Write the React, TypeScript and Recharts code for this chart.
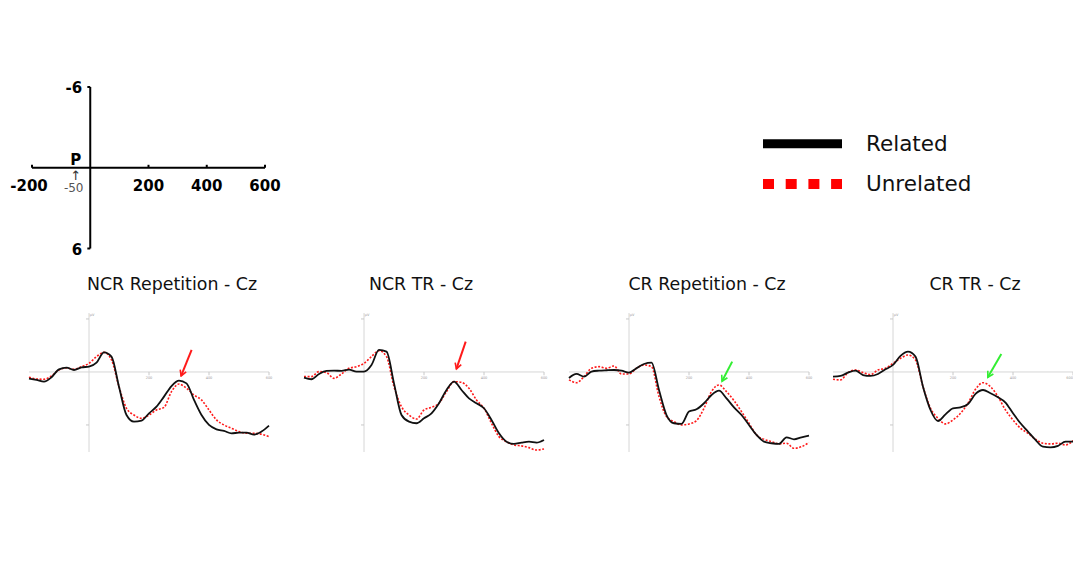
import { LineChart, Line, XAxis, YAxis, ReferenceLine, ReferenceDot } from "recharts";

// time points (ms) shared by every waveform
const times = [
  -200, -175, -150, -125, -100, -75, -50, -25, 0, 25, 50, 75, 100, 125, 150, 175, 200,
  225, 250, 275, 300, 325, 350, 375, 400, 425, 450, 475, 500, 525, 550, 575, 600,
];

// amplitudes in µV, negative plotted up
const ncrRepRelated = [
  0.5, 0.6, 0.73, 0.4, -0.2, -0.33, -0.15, -0.35, -0.4, -0.7, -1.48, -1.16, 1.11, 3.25, 3.75, 3.67, 3.12,
  2.62, 1.86, 1.06, 0.65, 0.86, 2.11, 3.25, 4.0, 4.33, 4.45, 4.63, 4.58, 4.58, 4.73, 4.5, 4.05,
];
const ncrRepUnrelated = [
  0.4, 0.53, 0.55, 0.3, -0.15, -0.3, -0.2, -0.4, -0.65, -1.16, -1.48, -0.91, 1.11, 2.74, 3.25, 3.5, 3.25,
  2.87, 2.67, 1.48, 0.91, 1.23, 1.74, 2.11, 2.87, 3.62, 4.0, 4.25, 4.5, 4.63, 4.63, 4.7, 4.88,
];
const ncrTrRelated = [
  0.43, 0.55, 0.15, -0.08, -0.1, -0.08, -0.18, -0.03, -0.03, -0.53, -1.66, -1.53, 0.86, 3.25, 3.75, 3.87, 3.5,
  3.12, 2.36, 1.36, 0.73, 1.36, 1.99, 2.36, 2.74, 3.62, 4.63, 5.26, 5.43, 5.33, 5.26, 5.33, 5.13,
];
const ncrTrUnrelated = [
  0.35, 0.35, -0.03, 0.05, 0.48, 0.15, -0.28, -0.4, -0.65, -1.16, -1.61, -1.16, 1.11, 2.62, 3.25, 3.55, 2.87,
  2.67, 2.36, 1.48, 0.73, 0.78, 1.23, 2.11, 2.74, 3.87, 4.88, 5.26, 5.51, 5.58, 5.71, 5.89, 5.81,
];
const crRepRelated = [
  0.45, 0.15, 0.35, -0.03, -0.1, -0.13, -0.15, -0.1, 0.05, -0.28, -0.6, -0.7, 1.36, 3.25, 3.87, 3.92, 2.99,
  2.82, 2.36, 1.74, 1.41, 1.99, 2.67, 3.25, 4.0, 4.75, 5.26, 5.38, 5.43, 4.93, 5.08, 4.93, 4.81,
];
const crRepUnrelated = [
  0.6, 0.81, 0.35, -0.28, -0.4, -0.28, -0.45, 0.15, 0.15, -0.28, -0.53, -0.4, 1.86, 3.37, 3.75, 4.0, 3.92,
  3.67, 2.74, 1.48, 0.98, 1.48, 2.16, 2.99, 3.87, 4.75, 5.08, 5.26, 5.43, 5.38, 5.76, 5.64, 5.33,
];
const crTrRelated = [
  0.35, 0.3, 0.05, -0.1, 0.23, 0.3, 0.15, -0.2, -0.53, -1.21, -1.53, -1.16, 1.11, 2.87, 3.7, 3.2, 2.74,
  2.67, 2.42, 1.66, 1.36, 1.61, 1.91, 2.31, 3.12, 3.87, 4.5, 5.13, 5.64, 5.69, 5.58, 5.26, 5.26,
];
const crTrUnrelated = [
  0.55, 0.6, 0.05, -0.15, 0.05, 0.2, -0.15, -0.28, -0.65, -1.03, -1.28, -0.91, 1.11, 2.74, 3.5, 3.92, 3.62,
  3.12, 2.36, 1.31, 0.81, 1.11, 1.86, 2.87, 3.62, 4.25, 4.63, 5.08, 5.38, 5.43, 5.38, 5.51, 5.18,
];

const panelTitles = ["NCR Repetition - Cz", "NCR TR - Cz", "CR Repetition - Cz", "CR TR - Cz"];
const panelSeries = [
  [ncrRepRelated, ncrRepUnrelated],
  [ncrTrRelated, ncrTrUnrelated],
  [crRepRelated, crRepUnrelated],
  [crTrRelated, crTrUnrelated],
];
// arrow tail / head as [ms, µV]
const panelArrows = [
  [[342, -1.66], [307, 0.3]],
  [[339, -2.29], [308, -0.23]],
  [[344, -0.78], [310, 0.7]],
  [[361, -1.36], [316, 0.4]],
];
const arrowColors = ["#ff1a1a", "#ff1a1a", "#33ee33", "#33ee33"];

// scale bar axes
const scaleRange = [-200, 600];
const scaleXTicks = [-200, 200, 400, 600];
const scaleYTicks = [-6, 6];
const panelXTicks = [200, 400, 600];
const panelYTicks = [-4, 4];

const FONT = "'DejaVu Sans', sans-serif";
const TITLE_FONT = "'DejaVu Sans', sans-serif";

// layout
const panelLefts = [19.3, 294, 558.5, 822.5];
const titleCenters = [172, 421, 707, 975];

function textAt(
  text: string,
  opts: { dx?: number; dy?: number; anchor?: string; size?: number; weight?: string; color?: string } = {}
) {
  const { dx = 0, dy = 0, anchor = "middle", size = 15, weight = "bold", color = "#000" } = opts;
  return (props: any) => {
    const vb = props.viewBox || {};
    const cx = (vb.x ?? props.x ?? 0) + (vb.width ?? 0) / 2;
    const cy = (vb.y ?? props.y ?? 0) + (vb.height ?? 0) / 2;
    return (
      <text
        x={cx + dx}
        y={cy + dy}
        textAnchor={anchor as any}
        dominantBaseline="central"
        fontFamily={FONT}
        fontSize={size}
        fontWeight={weight}
        fill={color}
      >
        {text}
      </text>
    );
  };
}

function ScaleAxes() {
  const data = scaleRange.map((t) => ({ t, v: 0 }));
  return (
    <div style={{ position: "absolute", left: 0, top: 0 }}>
      <LineChart width={300} height={270} data={data} margin={{ top: 87, right: 35, bottom: 21.5, left: 32 }}>
        <XAxis type="number" dataKey="t" domain={[-200, 600]} hide />
        <YAxis type="number" domain={[-6, 6]} reversed hide />
        <Line dataKey="v" stroke="#000" strokeWidth={2} dot={false} isAnimationActive={false} />
        <ReferenceLine x={0} stroke="#000" strokeWidth={2} />
        {scaleXTicks.map((v) => (
          <ReferenceLine
            key={"xt" + v}
            segment={[{ x: v, y: 0 }, { x: v, y: -0.22 }]}
            stroke="#000"
            strokeWidth={2}
          />
        ))}
        {scaleYTicks.map((v) => (
          <ReferenceLine
            key={"yt" + v}
            segment={[{ x: -10, y: v }, { x: 0, y: v }]}
            stroke="#000"
            strokeWidth={2}
          />
        ))}
        {scaleXTicks.map((v) => (
          <ReferenceDot
            key={"xl" + v}
            x={v}
            y={0}
            r={0}
            fill="none"
            stroke="none"
            label={textAt(String(v), { dy: 18, dx: v < 0 ? -3 : 0 })}
          />
        ))}
        {scaleYTicks.map((v) => (
          <ReferenceDot
            key={"yl" + v}
            x={0}
            y={v}
            r={0}
            fill="none"
            stroke="none"
            label={textAt(String(v), { dx: -8, dy: v > 0 ? 1.5 : 0.5, anchor: "end" })}
          />
        ))}
        <ReferenceDot x={-50} y={0} r={0} fill="none" stroke="none" label={textAt("P", { dy: -7.5, size: 15 })} />
        <ReferenceDot
          x={-50}
          y={0}
          r={0}
          fill="none"
          stroke="none"
          label={textAt("↑", { dy: 7.5, size: 13, weight: "normal", color: "#333" })}
        />
        <ReferenceDot
          x={-50}
          y={0}
          r={0}
          fill="none"
          stroke="none"
          label={textAt("-50", { dy: 20.5, dx: -2, size: 12, weight: "normal", color: "#555" })}
        />
      </LineChart>
    </div>
  );
}

function LegendBox() {
  return (
    <svg width={260} height={80} style={{ position: "absolute", left: 750, top: 120 }}>
      <line x1={13} y1={23.7} x2={92} y2={23.7} stroke="#000" strokeWidth={9} />
      <line x1={13} y1={64} x2={92} y2={64} stroke="#ff0000" strokeWidth={10} strokeDasharray="11 11.7" />
      <text x={116} y={23.5} dominantBaseline="central" fontFamily={FONT} fontSize={21.5} fill="#111">
        Related
      </text>
      <text x={116} y={63.5} dominantBaseline="central" fontFamily={FONT} fontSize={21.5} fill="#111">
        Unrelated
      </text>
    </svg>
  );
}

function Panel({ index }: { index: number }) {
  const [related, unrelated] = panelSeries[index];
  const data = times.map((t, i) => ({ t, related: related[i], unrelated: unrelated[i] }));
  const [tail, head] = panelArrows[index];
  const color = arrowColors[index];
  const markerId = `arrowhead-${index}`;
  const axisGrey = "#d6d6d6";
  const last = index === panelTitles.length - 1;
  return (
    <>
      <div
        style={{
          position: "absolute",
          left: titleCenters[index] - 150,
          top: 273,
          width: 300,
          textAlign: "center",
          fontFamily: TITLE_FONT,
          fontSize: 17.4,
          lineHeight: "22px",
          color: "#111",
        }}
      >
        {panelTitles[index]}
      </div>
      <div style={{ position: "absolute", left: panelLefts[index], top: 300 }}>
        <LineChart width={260} height={165} data={data} margin={{ top: 13, right: 10, bottom: 13, left: 10 }}>
          <defs>
            <marker
              id={markerId}
              viewBox="0 0 10 10"
              refX="8"
              refY="5"
              markerWidth="8"
              markerHeight="8"
              markerUnits="userSpaceOnUse"
              orient="auto"
            >
              <path d="M1,1 L8,5 L1,9" fill="none" stroke={color} strokeWidth={2} />
            </marker>
          </defs>
          <XAxis type="number" dataKey="t" domain={[-200, 600]} hide />
          <YAxis type="number" domain={[-4.45, 6.04]} reversed hide allowDataOverflow />
          <ReferenceLine y={0} stroke={axisGrey} strokeWidth={1} />
          <ReferenceLine x={0} stroke={axisGrey} strokeWidth={1} />
          {panelXTicks.map((v) => (
            <ReferenceLine key={"pxt" + v} segment={[{ x: v, y: 0 }, { x: v, y: 0.25 }]} stroke="#c8c8c8" />
          ))}
          {panelYTicks.map((v) => (
            <ReferenceLine key={"pyt" + v} segment={[{ x: -10, y: v }, { x: 0, y: v }]} stroke="#c8c8c8" />
          ))}
          {panelXTicks.map((v) => (
            <ReferenceDot
              key={"pxl" + v}
              x={v}
              y={0}
              r={0}
              fill="none"
              stroke="none"
              label={textAt(String(v), {
                dy: 6,
                size: 3.5,
                weight: "normal",
                color: "#999",
                anchor: last && v === 600 ? "end" : "middle",
              })}
            />
          ))}
          <ReferenceDot
            x={0}
            y={-4.45}
            r={0}
            fill="none"
            stroke="none"
            label={textAt("µV", { dx: 3, dy: 2, size: 3.5, weight: "normal", color: "#999" })}
          />
          <Line
            type="monotone"
            dataKey="unrelated"
            stroke="#ff1a1a"
            strokeWidth={1.6}
            strokeDasharray="2 1.6"
            dot={false}
            isAnimationActive={false}
          />
          <Line
            type="monotone"
            dataKey="related"
            stroke="#111"
            strokeWidth={1.8}
            dot={false}
            isAnimationActive={false}
          />
          <ReferenceLine
            segment={[{ x: tail[0], y: tail[1] }, { x: head[0], y: head[1] }]}
            stroke={color}
            strokeWidth={2}
            markerEnd={`url(#${markerId})`}
          />
        </LineChart>
      </div>
    </>
  );
}

export default function App() {
  return (
    <div style={{ position: "absolute", left: 0, top: 0, width: 1073, height: 571, background: "#fff" }}>
      <ScaleAxes />
      <LegendBox />
      {panelTitles.map((_, i) => (
        <Panel key={i} index={i} />
      ))}
    </div>
  );
}
